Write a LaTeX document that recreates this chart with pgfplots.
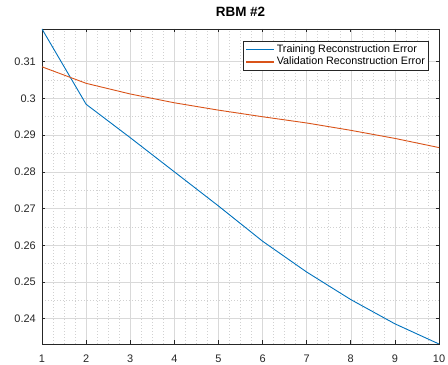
\documentclass[border=0pt]{standalone}
\usepackage{pgfplots}
\pgfplotsset{compat=1.18}
\usepackage{fontspec}
\setmainfont{Liberation Sans}

\definecolor{mblue}{rgb}{0,0.447,0.741}
\definecolor{morange}{rgb}{0.85,0.325,0.098}
\definecolor{axgray}{rgb}{0.15,0.15,0.15}
\definecolor{gridmaj}{rgb}{0.85,0.85,0.85}
\definecolor{gridmin}{rgb}{0.82,0.82,0.82}

% reconstruction error per epoch
\pgfplotstableread{
epoch train
1  0.3189
2  0.2984
3  0.2893
4  0.2800
5  0.2707
6  0.2611
7  0.2527
8  0.2452
9  0.2386
10 0.2331
}\traindata
\pgfplotstableread{
epoch valid
1  0.3086
2  0.3041
3  0.3012
4  0.2988
5  0.2968
6  0.2950
7  0.2933
8  0.2913
9  0.2891
10 0.2866
}\validdata

\begin{document}
\begin{tikzpicture}
\path[use as bounding box] (-42bp,-21bp) rectangle (406bp,344bp);
\begin{axis}[
  at={(0bp,0bp)}, anchor=south west,
  scale only axis, width=397bp, height=315bp,
  xmin=1, xmax=10, ymin=0.2331, ymax=0.3189,
  xtick={1,2,3,4,5,6,7,8,9,10},
  xticklabels={1,2,3,4,5,6,7,8,9,10},
  ytick={0.24,0.25,0.26,0.27,0.28,0.29,0.30,0.31},
  yticklabels={0.24,0.25,0.26,0.27,0.28,0.29,0.3,0.31},
  minor x tick num=3, minor y tick num=1,
  grid=both,
  major grid style={gridmaj, line width=0.5bp},
  minor grid style={gridmin, line width=0.5bp, dash pattern=on 1bp off 2bp},
  axis line style={axgray, line width=0.6bp},
  tick style={axgray, line width=0.6bp},
  tick align=inside, tick pos=both,
  xticklabel pos=lower, yticklabel pos=left,
  major tick length=3.5bp, minor tick length=0bp,
  xticklabel style={font=\fontsize{11}{13}\selectfont, text=axgray, anchor=base, inner sep=0pt, yshift=-18bp},
  yticklabel style={font=\fontsize{11}{13}\selectfont, text=axgray, anchor=east, inner sep=0pt, xshift=-6bp},
  title={\bfseries RBM \#2},
  title style={font=\fontsize{13.5}{15}\selectfont, at={(0.5,1)}, anchor=base, inner sep=0pt, yshift=6.3bp},
  legend cell align=left,
  legend image post style={xscale=1.65, line width=1.4bp},
  legend style={name=leg, at={(1,1)}, anchor=north east, xshift=-10bp, yshift=-12bp,
    font=\fontsize{10.8}{12}\selectfont,
    draw=axgray, line width=0.6bp, fill=white,
    inner xsep=2bp, inner ysep=2.5bp, row sep=0.5bp,
    nodes={inner xsep=1.8bp, inner ysep=1.2bp}},
]
\addplot[mblue, line width=0.9bp] table[x=epoch, y=train] {\traindata};
\addlegendentry{Training Reconstruction Error}
\addplot[morange, line width=0.9bp] table[x=epoch, y=valid] {\validdata};
\addlegendentry{Validation Reconstruction Error}
\end{axis}
\end{tikzpicture}
\end{document}
